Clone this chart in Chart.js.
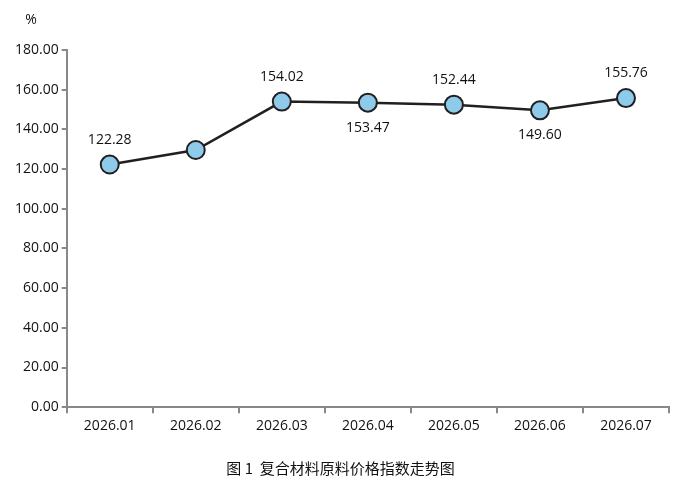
<!DOCTYPE html>
<html>
<head>
<meta charset="utf-8">
<script src="https://cdn.jsdelivr.net/npm/chart.js@4/dist/chart.umd.min.js"></script>
<style>
  html, body { margin: 0; padding: 0; background: #fff; }
  #wrap { width: 685px; height: 491px; }
</style>
</head>
<body>
<div id="wrap"><canvas id="priceChart" width="685" height="491"></canvas></div>
<script>
// chart values
const months = ['2026.01', '2026.02', '2026.03', '2026.04', '2026.05', '2026.06', '2026.07'];
const indexValues = [122.28, 129.60, 154.02, 153.47, 152.44, 149.60, 155.76];
// where each value label sits: 'above', 'below' or none
const labelPlace = ['above', null, 'above', 'below', 'above', 'below', 'above'];
const yTicks = [0, 20, 40, 60, 80, 100, 120, 140, 160, 180];

const numFont = '"Open Sans", "Noto Sans", sans-serif';

// draws the value labels and the % unit
const valueLabels = {
    id: 'valueLabels',
    afterDatasetsDraw(chart) {
        const ctx = chart.ctx;
        const meta = chart.getDatasetMeta(0);
        ctx.save();
        ctx.fillStyle = '#111';
        ctx.font = '14px ' + numFont;
        ctx.textAlign = 'center';
        meta.data.forEach((pt, i) => {
            if (!labelPlace[i]) return;
            if (labelPlace[i] === 'above') {
                ctx.textBaseline = 'bottom';
                ctx.fillText(indexValues[i].toFixed(2), pt.x, pt.y - 18);
            } else {
                ctx.textBaseline = 'top';
                ctx.fillText(indexValues[i].toFixed(2), pt.x, pt.y + 18);
            }
        });
        // unit
        ctx.textAlign = 'center';
        ctx.textBaseline = 'middle';
        ctx.fillText('%', 31, 20);
        ctx.restore();
    }
};

let ctx = document.getElementById('priceChart').getContext('2d');
new Chart(ctx, {
    type: 'line',
    data: {
        labels: months,
        datasets: [{
            label: '价格指数',
            data: indexValues,
            borderColor: '#231f20',
            borderWidth: 2.5,
            tension: 0,
            fill: false,
            pointRadius: 9,
            pointHoverRadius: 9,
            pointBorderWidth: 2,
            pointBackgroundColor: '#8ecae9',
            pointBorderColor: '#231f20'
        }]
    },
    options: {
        responsive: false,
        animation: false,
        layout: {
            padding: { top: 50, right: 16, left: 12, bottom: 4 }
        },
        plugins: {
            legend: { display: false },
            tooltip: { enabled: false },
            title: {
                display: true,
                position: 'bottom',
                text: '图 1  复合材料原料价格指数走势图',
                color: '#111',
                font: { family: '"Noto Sans CJK SC", sans-serif', size: 15, weight: 'normal' },
                padding: { top: 21, bottom: 10 }
            }
        },
        scales: {
            x: {
                offset: true,
                grid: {
                    offset: true,
                    drawOnChartArea: false,
                    drawTicks: true,
                    tickLength: 6,
                    color: '#888',
                    lineWidth: 2
                },
                border: { color: '#888', width: 2 },
                ticks: {
                    color: '#111',
                    font: { family: numFont, size: 14 },
                    maxRotation: 0,
                    padding: 4
                }
            },
            y: {
                min: 0,
                max: 180,
                afterBuildTicks: (axis) => { axis.ticks = yTicks.map(v => ({ value: v })); },
                grid: {
                    drawOnChartArea: false,
                    drawTicks: true,
                    tickLength: 5,
                    color: '#888',
                    lineWidth: 2
                },
                border: { color: '#888', width: 2 },
                ticks: {
                    color: '#111',
                    font: { family: numFont, size: 14 },
                    padding: 3,
                    callback: (v) => Number(v).toFixed(2)
                }
            }
        }
    },
    plugins: [valueLabels]
});
</script>
</body>
</html>
